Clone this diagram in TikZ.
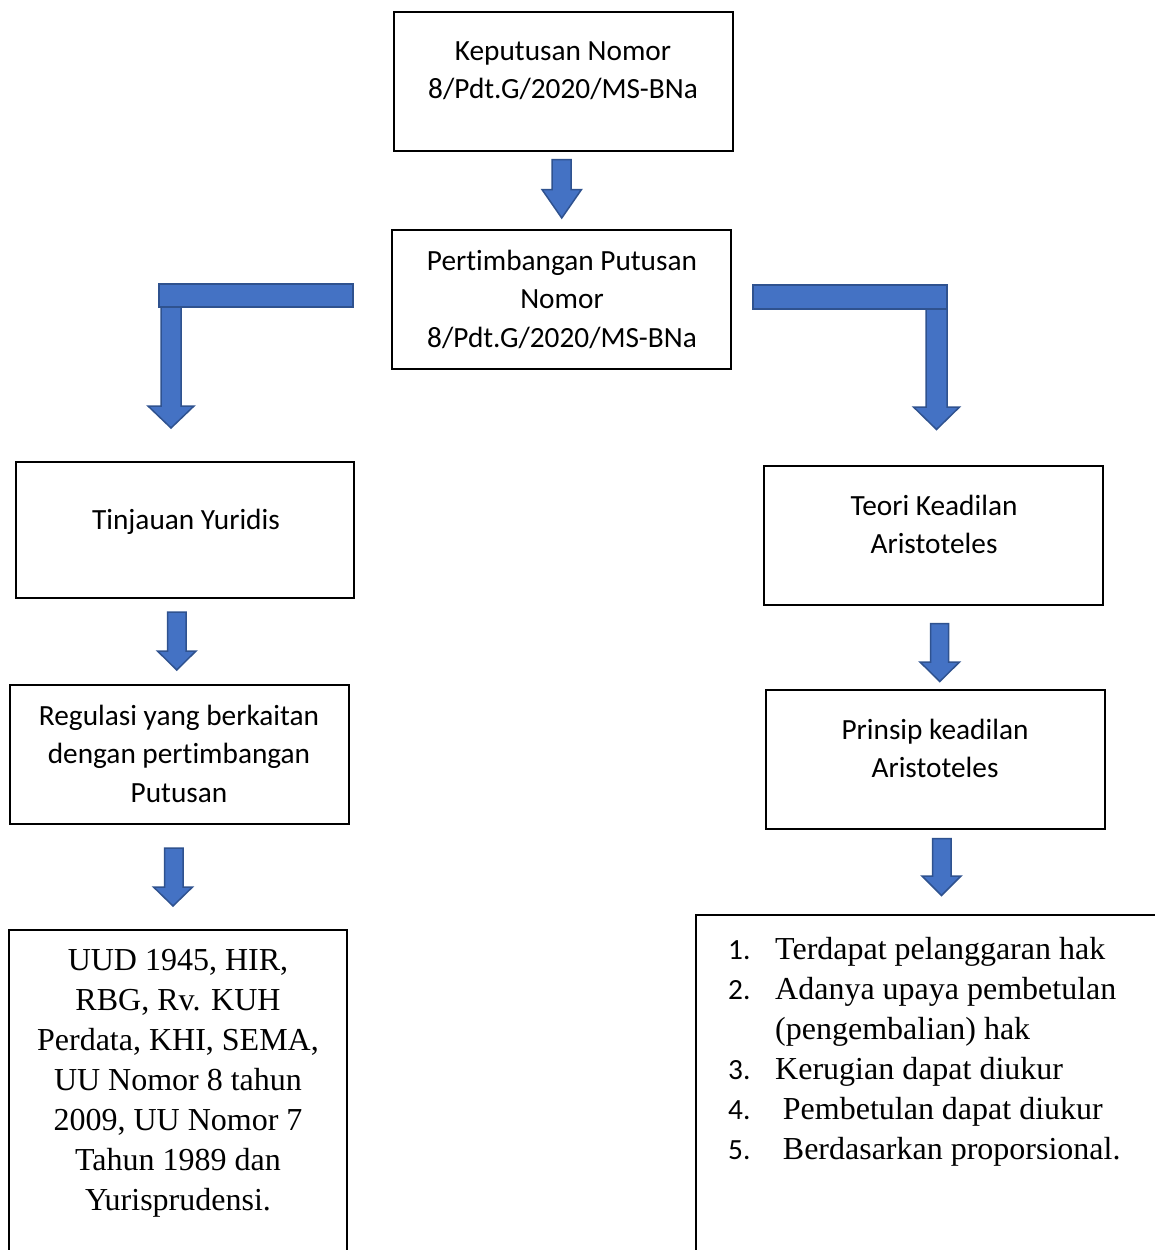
\documentclass[tikz,border=0pt]{standalone}
\usepackage{fontspec}
\setmainfont{Liberation Serif}
\newfontfamily\calfont[RawFeature={-liga;-calt;-clig;-dlig}]{Carlito}
\newfontfamily\tnrfont{Liberation Serif}
\definecolor{arrowfill}{HTML}{4472C4}
\definecolor{arrowline}{HTML}{2F528F}
\newcommand\cfs{\calfont\fontsize{29.3}{38.6}\selectfont}
\newcommand\tfs{\tnrfont\fontsize{32}{40}\selectfont}
\newcommand\nfs{\calfont\fontsize{29.3}{40}\selectfont}
\newcommand\fl{\rule{0pt}{30pt}}
\newcommand\ti{t\kern0pt i}
% shaft left, shaft right, top, head y, head left, head right, tip y
\newcommand\blkarrow[7]{%
  \filldraw[blk] (#1,#3) -- (#2,#3) -- (#2,#4) -- (#6,#4) -- ({(#5+#6)/2},#7) -- (#5,#4) -- (#1,#4) -- cycle;}
\begin{document}
\begin{tikzpicture}[x=1pt,y=-1pt,
  box/.style={draw=black, line width=2pt, inner sep=0pt},
  blk/.style={fill=arrowfill, draw=arrowline, line width=1.5pt, line join=miter},
  ctxt/.style={inner sep=0pt, align=center, font=\cfs, anchor=north},
  ttxt/.style={inner sep=0pt, align=center, font=\tfs, anchor=north}]
\useasboundingbox (0,0) rectangle (1155,1250);
\fill[white] (0,0) rectangle (1155,1250);
\clip (0,0) rectangle (1155,1250);

% boxes
\node[box, minimum width=339pt, minimum height=138.4pt] (k1) at (563.5,81.5) {};
\node[box, minimum width=339pt, minimum height=139pt] (k2) at (561.5,299.5) {};
\node[box, minimum width=338.3pt, minimum height=136.6pt] (tj) at (184.9,530) {};
\node[box, minimum width=339pt, minimum height=139pt] (te) at (933.5,535.5) {};
\node[box, minimum width=339pt, minimum height=139pt] (rg) at (179.5,754.5) {};
\node[box, minimum width=339pt, minimum height=139pt] (pr) at (935.5,759.5) {};
\node[box, minimum width=338pt, minimum height=370pt] (uu) at (178,1115) {};
\node[box, minimum width=524pt, minimum height=385pt] (ls) at (958,1107.5) {};

% texts
\node[ctxt] (k1t) at (563,30) {\fl Keputusan Nomor\\8/Pdt.G/2020/MS-BNa};
\node[ctxt] (k2t) at (562,240) {\fl Per\ti mbangan Putusan\\Nomor\\8/Pdt.G/2020/MS-BNa};
\node[ctxt] (tjt) at (186,499) {\fl Tinjauan Yuridis};
\node[ctxt] (tet) at (934,485) {\fl Teori Keadilan\\Aristoteles};
\node[ctxt] (rgt) at (179,695) {\fl Regulasi yang berkaitan\\dengan per\ti mbangan\\Putusan};
\node[ctxt] (prt) at (935,709) {\fl Prinsip keadilan\\Aristoteles};
\node[ttxt] (uut) at (178,940) {\fl UUD 1945, HIR,\\RBG, Rv. KUH\\Perdata, KHI, SEMA,\\UU Nomor 8 tahun\\2009, UU Nomor 7\\Tahun 1989 dan\\Yurisprudensi.};
\node[inner sep=0pt, anchor=north west, font=\tfs] (lst) at (728,931) {%
  \begin{tabular}{@{}l@{}l@{}}
  \makebox[47pt][l]{\nfs 1.} & Terdapat pelanggaran hak\\
  \makebox[47pt][l]{\nfs 2.} & Adanya upaya pembetulan\\
  \makebox[47pt][l]{} & (pengembalian) hak\\
  \makebox[47pt][l]{\nfs 3.} & Kerugian dapat diukur\\
  \makebox[47pt][l]{\nfs 4.} & \hspace{7.7pt}Pembetulan dapat diukur\\
  \makebox[47pt][l]{\nfs 5.} & \hspace{7.7pt}Berdasarkan proporsional.
  \end{tabular}};

% arrows
\blkarrow{552}{571}{159.5}{189.5}{542}{581.5}{218}
% left bent
\filldraw[blk] (159,284) rectangle (353,307);
\blkarrow{161}{181}{307}{406}{148}{194}{428}
% right bent
\filldraw[blk] (753,285) rectangle (947,309);
\blkarrow{926}{947}{309}{407}{913.5}{959.5}{429.5}
\blkarrow{167.5}{186}{612}{651}{157.5}{196}{670}
\blkarrow{164.5}{183}{848}{887}{153.5}{192.5}{906}
\blkarrow{930.5}{948.5}{623.5}{662}{920}{959.5}{681.5}
\blkarrow{932.5}{951}{838.5}{876}{922}{961}{895.5}
\end{tikzpicture}
\end{document}
